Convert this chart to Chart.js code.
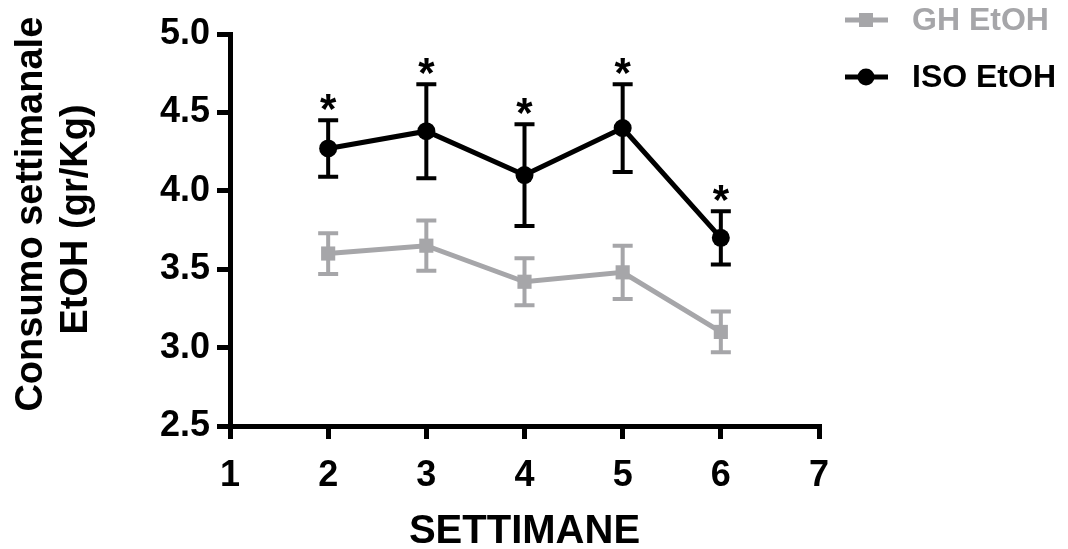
<!DOCTYPE html>
<html>
<head>
<meta charset="utf-8">
<title>Consumo settimanale EtOH</title>
<script src="https://cdn.jsdelivr.net/npm/chart.js@4/dist/chart.umd.min.js"></script>
<style>
    html, body { margin: 0; padding: 0; background: #fff; }
    #wrap { width: 1068px; height: 549px; }
</style>
</head>
<body>
<div id="wrap"><canvas id="weeklyChart" width="1068" height="549"></canvas></div>
<script>
// Weeks (x values) and the two groups, mean +/- SEM
const weeks = [2, 3, 4, 5, 6];
const ghMeans = [3.60, 3.65, 3.42, 3.48, 3.10];
const ghErrors = [0.13, 0.16, 0.15, 0.17, 0.13];
const isoMeans = [4.27, 4.38, 4.10, 4.40, 3.70];
const isoErrors = [0.18, 0.30, 0.325, 0.28, 0.17];
const isoSignificant = [true, true, true, true, true];  // asterisks over ISO points
const yTicks = [2.5, 3.0, 3.5, 4.0, 4.5, 5.0];
const xTicks = [1, 2, 3, 4, 5, 6, 7];

const GREY = '#a6a6a9';
const FONT = '"Liberation Sans", Arial, sans-serif';

// Draws vertical error bars with caps for every dataset that has "errors"
const errorBarsPlugin = {
    id: 'errorBars',
    beforeDatasetsDraw(chart) {
        const ctx = chart.ctx;
        const xs = chart.scales.x;
        const ys = chart.scales.y;
        chart.data.datasets.forEach(ds => {
            if (!ds.errors) return;
            ctx.save();
            ctx.strokeStyle = ds.borderColor;
            ctx.lineWidth = 4;
            ds.data.forEach((pt, i) => {
                const px = xs.getPixelForValue(pt.x);
                const top = ys.getPixelForValue(pt.y + ds.errors[i]);
                const bottom = ys.getPixelForValue(pt.y - ds.errors[i]);
                ctx.beginPath();
                ctx.moveTo(px, top);
                ctx.lineTo(px, bottom);
                ctx.moveTo(px - 10, top);
                ctx.lineTo(px + 10, top);
                ctx.moveTo(px - 10, bottom);
                ctx.lineTo(px + 10, bottom);
                ctx.stroke();
            });
            ctx.restore();
        });
    }
};

// Asterisks above the ISO error bars
const asteriskPlugin = {
    id: 'asterisks',
    afterDatasetsDraw(chart) {
        const ctx = chart.ctx;
        const xs = chart.scales.x;
        const ys = chart.scales.y;
        ctx.save();
        ctx.fillStyle = '#000';
        ctx.font = 'bold 42px ' + FONT;
        ctx.textAlign = 'center';
        ctx.textBaseline = 'alphabetic';
        isoMeans.forEach((m, i) => {
            if (!isoSignificant[i]) return;
            const px = xs.getPixelForValue(weeks[i]);
            const top = ys.getPixelForValue(m + isoErrors[i]);
            ctx.fillText('*', px, top + 3);
        });
        ctx.restore();
    }
};

// Legend in the top right corner, line + marker + label
const legendPlugin = {
    id: 'cornerLegend',
    afterDraw(chart) {
        const ctx = chart.ctx;
        const items = [
            { label: 'GH EtOH', color: GREY, shape: 'rect', y: 20 },
            { label: 'ISO EtOH', color: '#000', shape: 'circle', y: 77 }
        ];
        ctx.save();
        items.forEach(item => {
            ctx.strokeStyle = item.color;
            ctx.fillStyle = item.color;
            ctx.lineWidth = 5;
            ctx.beginPath();
            ctx.moveTo(845, item.y);
            ctx.lineTo(888, item.y);
            ctx.stroke();
            if (item.shape === 'rect') {
                ctx.fillRect(866 - 7, item.y - 7, 14, 14);
            } else {
                ctx.beginPath();
                ctx.arc(866, item.y, 8.5, 0, Math.PI * 2);
                ctx.fill();
            }
            ctx.font = 'bold 32px ' + FONT;
            ctx.textAlign = 'left';
            ctx.textBaseline = 'middle';
            ctx.fillText(item.label, 912, item.y + 1);
        });
        ctx.restore();
    }
};

const ctx = document.getElementById('weeklyChart').getContext('2d');
new Chart(ctx, {
    type: 'line',
    data: {
        datasets: [
            {
                label: 'GH EtOH',
                data: weeks.map((w, i) => ({ x: w, y: ghMeans[i] })),
                errors: ghErrors,
                borderColor: GREY,
                backgroundColor: GREY,
                borderWidth: 5,
                pointStyle: 'rect',
                pointRadius: 10,
                pointBorderWidth: 0,
                tension: 0,
                fill: false
            },
            {
                label: 'ISO EtOH',
                data: weeks.map((w, i) => ({ x: w, y: isoMeans[i] })),
                errors: isoErrors,
                borderColor: '#000',
                backgroundColor: '#000',
                borderWidth: 5,
                pointStyle: 'circle',
                pointRadius: 9,
                pointBorderWidth: 0,
                tension: 0,
                fill: false
            }
        ]
    },
    options: {
        responsive: false,
        animation: false,
        layout: { padding: { top: 34, right: 249, left: 0, bottom: 0 } },
        plugins: {
            legend: { display: false },
            tooltip: { enabled: false }
        },
        scales: {
            x: {
                type: 'linear',
                min: 1,
                max: 7,
                afterFit: scale => { scale.height = 123; },
                afterBuildTicks: scale => { scale.ticks = xTicks.map(v => ({ value: v })); },
                grid: { drawOnChartArea: false, tickLength: 13, lineWidth: 5, color: '#000' },
                border: { color: '#000', width: 5 },
                ticks: {
                    color: '#000',
                    padding: 15,
                    font: { family: FONT, size: 36, weight: 'bold' }
                },
                title: {
                    display: true,
                    text: 'SETTIMANE',
                    color: '#000',
                    padding: { top: 0, bottom: 0 },
                    font: { family: FONT, size: 40, weight: 'bold', lineHeight: 0.85 }
                }
            },
            y: {
                min: 2.5,
                max: 5.0,
                afterFit: scale => { scale.width = 230; },
                afterBuildTicks: scale => { scale.ticks = yTicks.map(v => ({ value: v })); },
                grid: { drawOnChartArea: false, tickLength: 13, lineWidth: 5, color: '#000' },
                border: { color: '#000', width: 5 },
                ticks: {
                    color: '#000',
                    padding: 7,
                    font: { family: FONT, size: 36, weight: 'bold' },
                    callback: v => v.toFixed(1)
                },
                title: {
                    display: true,
                    // leading spaces nudge the centred lines towards the top, as in the figure
                    text: ['   Consumo settimanale', '  EtOH (gr/Kg)'],
                    color: '#000',
                    padding: { top: 9, bottom: 0 },
                    font: { family: FONT, size: 38, weight: 'bold', lineHeight: 1.18 }
                }
            }
        }
    },
    plugins: [errorBarsPlugin, asteriskPlugin, legendPlugin]
});
</script>
</body>
</html>
